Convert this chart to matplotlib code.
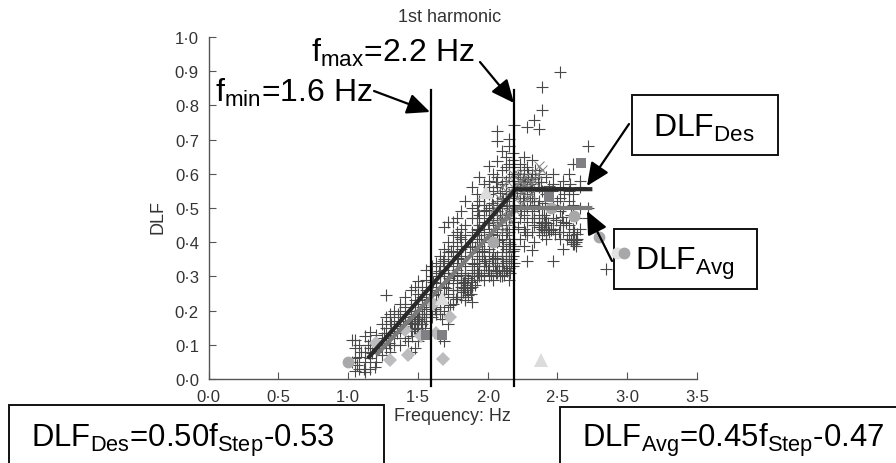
import matplotlib
matplotlib.use("Agg")
from matplotlib import pyplot as plt
from matplotlib.patches import Rectangle

plt.rcParams['font.family'] = ['Liberation Sans', 'DejaVu Sans']
plt.rcParams['mathtext.fontset'] = 'custom'
plt.rcParams['mathtext.rm'] = 'Liberation Sans'
plt.rcParams['mathtext.default'] = 'rm'

# + markers, grouped by frequency: (f, [DLF values])
cruces = [
    (1.03, [.05, .114]), (1.05, [.023, .06, .09, .113]), (1.08, [.03, .065, .10]),
    (1.12, [.02, .05, .08, .125]), (1.155, [.029, .06, .09, .11, .137]),
    (1.2, [.05, .08, .10, .13]), (1.24, [.07, .10, .12, .16]),
    (1.27, [.09, .12, .15, .18, .246]), (1.3, [.08, .10, .13, .17, .19]),
    (1.33, [.10, .12, .15, .18, .20]), (1.37, [.10, .14, .17, .20, .22]),
    (1.41, [.12, .16, .18, .21, .24]), (1.45, [.08, .14, .17, .19, .22, .26]),
    (1.48, [.09, .15, .17, .18, .20, .23, .27]),
    (1.5, [.11, .15, .16, .18, .20, .22, .25, .287]),
    (1.53, [.16, .17, .19, .21, .24, .27]),
    (1.56, [.17, .19, .21, .23, .26, .29, .32]),
    (1.6, [.18, .20, .22, .25, .27, .30, .33]),
    (1.63, [.19, .21, .23, .26, .28, .31, .34]),
    (1.66, [.12, .19, .22, .25, .28, .30, .33, .36]),
    (1.69, [.11, .20, .24, .27, .30, .32, .35, .38, .444]),
    (1.715, [.16, .21, .25, .28, .31, .34, .37, .40, .458]),
    (1.75, [.22, .24, .26, .29, .31, .33, .36, .39, .42, .46]),
    (1.78, [.24, .26, .28, .30, .32, .34, .37, .40, .43, .47]),
    (1.81, [.24, .26, .27, .29, .31, .33, .35, .38, .41, .44, .49]),
    (1.835, [.23, .27, .29, .31, .33, .36, .39, .42, .45, .52]),
    (1.885, [.225, .27, .30, .32, .34, .37, .40, .43, .47, .50, .56]),
    (1.92, [.29, .31, .33, .35, .38, .41, .44, .47, .51, .54]),
    (1.94, [.30, .32, .34, .36, .39, .42, .45, .48, .52, .59]),
    (1.97, [.29, .31, .33, .35, .37, .40, .43, .46, .49, .53, .57]),
    (2.01, [.30, .32, .34, .36, .38, .41, .44, .47, .50, .54, .58, .623]),
    (2.04, [.29, .33, .35, .37, .39, .42, .45, .48, .51, .55, .60]),
    (2.07, [.31, .34, .36, .40, .43, .46, .49, .52, .56, .59, .637, .696, .725]),
    (2.1, [.30, .33, .35, .37, .41, .44, .47, .50, .53, .57, .61, .667]),
    (2.13, [.32, .34, .36, .38, .42, .45, .48, .52, .55, .58, .62, .65]),
    (2.15, [.29, .35, .37, .40, .43, .47, .51, .54, .59, .63, .68, .702]),
    (2.18, [.33, .36, .39, .41, .44, .49, .53, .56, .60, .64, .66]),
    (2.19, [.34, .38, .46, .50, .58, .743]),
    (2.23, [.41, .47, .51, .53, .57, .60, .63]),
    (2.26, [.39, .44, .48, .52, .55, .59, .61, .649]),
    (2.285, [.345, .42, .46, .50, .54, .57, .737]),
    (2.32, [.377, .43, .47, .49, .53, .56, .60, .64]),
    (2.335, [.40, .45, .51, .55, .757]),
    (2.37, [.43, .445, .46, .48, .52, .56, .60, .731]),
    (2.39, [.42, .44, .455, .47, .50, .55, .787, .853]),
    (2.42, [.41, .43, .45, .47, .54, .59]),
    (2.47, [.345, .44, .47, .51, .57, .60]),
    (2.52, [.41, .45, .49, .53, .56, .897]),
    (2.54, [.38, .43, .46, .50, .58]),
    (2.58, [.42, .45, .52, .55, .60]),
    (2.61, [.40, .41, .44, .51, .54, .629]),
    (2.63, [.39, .40, .41, .47]),
    (2.66, [.44, .50, .56, .58]),
    (2.72, [.47, .50, .681]),
    (2.79, [.605]), (2.845, [.322]),
]

# more + markers with irregular frequencies
extra_f = [1.06, 1.09, 1.11, 1.14, 1.17, 1.19, 1.22, 1.26, 1.29, 1.31, 1.35, 1.36, 1.39, 1.43,
           1.44, 1.46, 1.47, 1.49, 1.51, 1.52, 1.54, 1.55, 1.46, 1.49, 1.52, 1.47, 1.51, 1.54,
           1.58, 1.59, 1.61, 1.62, 1.64, 1.65, 1.67, 1.68, 1.7, 1.72, 1.73, 1.74, 1.76, 1.77,
           1.79, 1.8, 1.82, 1.83, 1.84, 1.86, 1.87, 1.88, 1.9, 1.91, 1.83, 1.85, 1.86, 1.88,
           1.84, 1.87, 1.89, 1.82, 1.85, 1.9, 1.93, 1.95, 1.96, 1.98, 1.99, 2.0, 2.02, 2.03,
           2.05, 2.06, 2.08, 2.09, 2.11, 2.12, 2.14, 2.16, 2.17, 1.93, 1.96, 1.99, 2.02, 2.05,
           2.08, 2.11, 2.14, 2.17, 2.06, 2.09, 2.12, 2.15, 2.03, 2.07, 2.1, 2.13, 2.16, 2.18,
           2.0, 1.95, 1.91, 2.04, 2.09, 2.14, 2.11, 2.06, 2.01, 1.97, 1.93, 2.19, 2.21, 2.22,
           2.24, 2.25, 2.27, 2.28, 2.3, 2.31, 2.33, 2.34, 2.36, 2.38, 2.4, 2.41, 2.43, 2.44,
           2.45, 2.46, 2.48, 2.49, 2.5, 2.51, 2.53, 2.55, 2.56, 2.57, 2.59, 2.6, 2.62, 2.64,
           2.38, 2.4, 2.43, 2.45, 2.41, 2.39, 2.44, 2.6, 2.62, 2.64, 2.61, 2.63, 2.21, 2.24,
           2.27, 2.22, 2.26, 2.3, 2.34, 2.29, 2.25, 2.33, 2.36, 2.31]
extra_dlf = [.04, .08, .03, .10, .075, .035, .09, .135, .105, .16, .135, .19, .155, .11,
             .165, .125, .185, .145, .175, .135, .205, .15, .165, .175, .16, .15, .19, .18,
             .235, .19, .285, .205, .245, .315, .175, .345, .265, .295, .215, .375, .305, .235,
             .355, .415, .255, .285, .305, .245, .385, .285, .335, .275, .265, .275, .295, .25,
             .24, .265, .31, .28, .26, .30, .435, .305, .375, .345, .495, .32, .425, .515,
             .355, .315, .405, .545, .39, .305, .43, .395, .34, .31, .36, .33, .305, .33,
             .32, .34, .315, .35, .31, .30, .315, .325, .35, .33, .36, .345, .31, .375,
             .455, .41, .385, .465, .48, .505, .525, .575, .56, .51, .49, .62, .555, .445,
             .49, .585, .43, .62, .52, .585, .47, .61, .505, .575, .48, .515, .44, .565,
             .435, .55, .425, .465, .52, .43, .475, .54, .455, .41, .57, .48, .43, .425,
             .445, .435, .455, .44, .46, .45, .43, .405, .395, .41, .395, .405, .545, .565,
             .575, .59, .58, .57, .59, .60, .53, .52, .575, .555]

# gray x markers around the knee of the curves
equis_f = [2.05, 2.08, 2.1, 2.12, 2.14, 2.16, 2.18, 2.2, 2.21, 2.23, 2.25, 2.27,
           2.29, 2.31, 2.33, 2.35, 2.37, 2.39, 2.15, 2.2, 2.24, 2.28, 2.12, 2.17,
           2.22, 2.26, 2.19, 2.23, 2.3, 2.13, 2.09, 2.06]
equis_dlf = [.50, .53, .56, .52, .58, .55, .60, .57, .53, .576, .55, .59,
             .56, .54, .58, .60, .623, .61, .47, .49, .51, .53, .44, .46,
             .60, .57, .54, .56, .575, .49, .47, .45]

circ_f = [1.0, 2.035, 2.45, 2.615, 2.80, 2.98]
circ_dlf = [.05, .40, .50, .477, .415, .368]
circ_claro_f = [2.93]
circ_claro_dlf = [.368]
rombo_f = [1.2, 1.30, 1.41, 1.43, 1.52, 1.61, 1.63, 1.68, 1.73]
rombo_dlf = [.105, .056, .143, .07, .125, .22, .135, .058, .18]
cuad_f = [1.56, 1.67, 2.44, 2.665]
cuad_dlf = [.13, .128, .532, .632]
tri_f = [1.67, 1.99, 2.38]
tri_dlf = [.237, .547, .055]

des_f = [1.14, 2.2, 2.75]
des_dlf = [.06, .555, .555]
avg_f = [1.2, 2.2, 2.75]
avg_dlf = [.07, .50, .50]

f_min = 1.59
f_max = 2.19

xticks = [0, .5, 1, 1.5, 2, 2.5, 3, 3.5]
yticks = [0, .1, .2, .3, .4, .5, .6, .7, .8, .9, 1]

W, H = 896, 464
fig = plt.figure(figsize=(W / 100, H / 100), dpi=100)
ax = fig.add_axes([208.7 / W, (H - 380) / H, 488.3 / W, 342 / H])
ax.patch.set_visible(False)

cx = []
cy = []
for f, vals in cruces:
    for v in vals:
        cx.append(f)
        cy.append(v)
cx = cx + extra_f
cy = cy + extra_dlf
ax.plot(cx, cy, '+', color='#484848', ms=8, mew=0.8, clip_on=False, zorder=2)
ax.plot(equis_f, equis_dlf, 'x', color='#808080', ms=6.5, mew=0.7, zorder=3)
ax.plot(rombo_f, rombo_dlf, 'D', color='#bcbcbe', ms=7, mew=0, zorder=3)
ax.plot(cuad_f, cuad_dlf, 's', color='#808084', ms=7, mew=0, zorder=3)
ax.plot(tri_f, tri_dlf, '^', color='#dcdcdc', ms=10, mew=0, zorder=3)
ax.plot(circ_claro_f, circ_claro_dlf, 'o', color='#e2e2e2', ms=8.5, mew=0, clip_on=False, zorder=3)
ax.plot(circ_f, circ_dlf, 'o', color='#a8a8aa', ms=8.5, mew=0, clip_on=False, zorder=3)
ax.plot(avg_f, avg_dlf, color='#7a7a7a', lw=3, zorder=4, solid_capstyle='butt')
ax.plot(des_f, des_dlf, color='#2a2a2a', lw=3, zorder=5, solid_capstyle='butt')
ax.plot([f_min, f_min], [-.02, .845], color='k', lw=1.6, clip_on=False, zorder=6)
ax.plot([f_max, f_max], [-.02, .845], color='k', lw=1.6, clip_on=False, zorder=6)

ax.set_xlim(0, 3.5)
ax.set_ylim(0, 1)
ax.set_xticks(xticks)
ax.set_yticks(yticks)
ax.set_xticklabels([('%.1f' % t).replace('.', '\u00b7') for t in xticks])
ax.set_yticklabels([('%.1f' % t).replace('.', '\u00b7') for t in yticks])
ax.tick_params(direction='in', length=5, width=0.8, color='#555555',
               labelcolor='#333333', labelsize=12)
ax.tick_params(axis='x', pad=7)
ax.tick_params(axis='y', pad=7)
for s in ['top', 'right']:
    ax.spines[s].set_visible(False)
for s in ['left', 'bottom']:
    ax.spines[s].set_color('#555555')
    ax.spines[s].set_linewidth(1.0)


def texto(x, y, s, size, color='k', **kw):
    fig.text(x / W, 1 - y / H, s, fontsize=size, color=color, **kw)


def flecha(x0, y0, x1, y1):
    ax.annotate('', xy=(x1 / W, 1 - y1 / H), xytext=(x0 / W, 1 - y0 / H),
                xycoords='figure fraction', textcoords='figure fraction', zorder=8,
                arrowprops=dict(arrowstyle='-|>,head_length=1.0,head_width=0.45', color='k',
                                lw=1.6, shrinkA=0, shrinkB=0, mutation_scale=14))


def caja(x0, y0, x1, y1):
    fig.add_artist(Rectangle((x0 / W, 1 - y1 / H), (x1 - x0) / W, (y1 - y0) / H,
                             transform=fig.transFigure, fc='white', ec='#111111', lw=1.4,
                             zorder=-1))


texto(450, 18, '1st harmonic', 13, color='#333333', ha='center', va='center')
texto(158, 217, 'DLF', 13, color='#333333', ha='center', va='center', rotation=90)
texto(452, 417, 'Frequency: Hz', 13, color='#333333', ha='center', va='center')

caja(632, 96, 778, 156)
caja(614, 230, 757, 290)
caja(9, 406, 384, 470)
caja(560, 408, 905, 470)

flecha(374, 92, 430, 113)
flecha(480, 63, 514, 104)
flecha(629, 125, 587, 187)
flecha(612, 262, 587, 212)

texto(215, 102, 'f$_{min}$=1.6 Hz', 23, va='baseline', zorder=9)
texto(311, 62, 'f$_{max}$=2.2 Hz', 23, va='baseline', zorder=9)
texto(653, 137, 'DLF$_{Des}$', 23, va='baseline', zorder=9)
texto(635, 270, 'DLF$_{Avg}$', 23, va='baseline', zorder=9)
texto(31, 447, 'DLF$_{Des}$=0.50f$_{Step}$-0.53', 22.4, va='baseline', zorder=9)
texto(582, 447, 'DLF$_{Avg}$=0.45f$_{Step}$-0.47', 22.4, va='baseline', zorder=9)

fig.savefig('out.png', dpi=100)
